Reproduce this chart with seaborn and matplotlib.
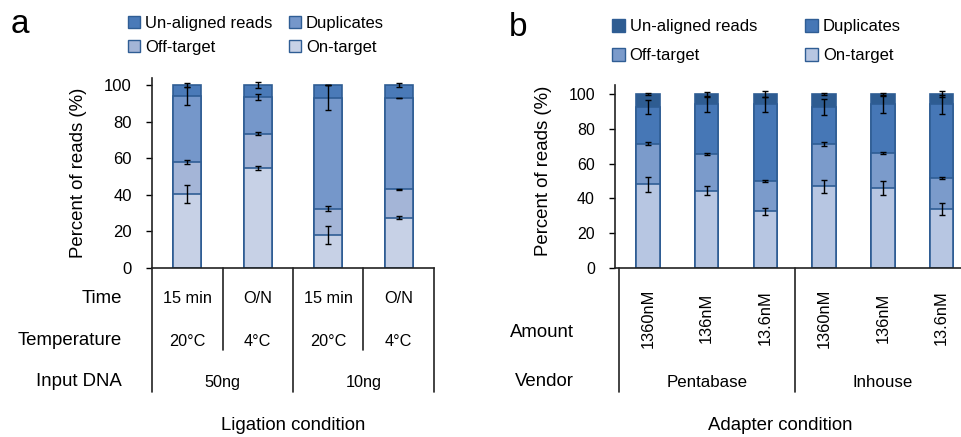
import matplotlib
matplotlib.use("Agg")
import matplotlib.pyplot as plt
from matplotlib.patches import Patch
import pandas as pd
import seaborn as sns

# ---------------------------------------------------------------------
# Data (percent of reads per segment)
# ---------------------------------------------------------------------
# Panel a: ligation condition
lig_time = ["15 min", "O/N", "15 min", "O/N"]
lig_temp = ["20°C", "4°C", "20°C", "4°C"]
lig_input = ["50ng", "10ng"]
lig_on = [40.5, 54.5, 18.0, 27.5]
lig_off = [17.5, 19.0, 14.5, 15.5]
lig_dup = [36.0, 20.0, 60.5, 50.0]
lig_un = [6.0, 6.5, 7.0, 7.0]
lig_on_err = [5.0, 1.1, 4.7, 0.9]
lig_off_err = [0.9, 0.6, 1.5, 0.2]
lig_dup_err = [4.7, 1.5, 6.8, 0.1]
lig_un_err = [1.3, 1.5, 0.0, 1.3]

# Panel b: adapter condition
ad_amount = ["1360nM", "136nM", "13.6nM", "1360nM", "136nM", "13.6nM"]
ad_vendor = ["Pentabase", "Inhouse"]
ad_on = [48.0, 44.5, 32.5, 47.0, 46.0, 34.0]
ad_off = [23.5, 21.0, 17.5, 24.5, 20.0, 17.5]
ad_dup = [21.0, 28.5, 44.0, 21.0, 28.0, 42.5]
ad_un = [7.5, 6.0, 6.0, 7.5, 6.0, 6.0]
ad_on_err = [4.5, 2.4, 2.2, 3.8, 3.8, 3.3]
ad_off_err = [1.0, 0.7, 0.7, 1.2, 0.7, 0.6]
ad_dup_err = [4.0, 4.5, 4.1, 4.5, 5.0, 5.3]
ad_un_err = [0.3, 1.0, 1.5, 0.3, 0.7, 1.5]

segments = ["On-target", "Off-target", "Duplicates", "Un-aligned reads"]
colors_a = ["#C7D1E6", "#A4B5D7", "#7597CA", "#4A7AB8"]
colors_b = ["#B7C6E2", "#7B9BCB", "#4677B6", "#2E5C91"]
EDGE = "#2F5D94"

sns.set_style("ticks")
plt.rcParams["font.family"] = ["Liberation Sans", "DejaVu Sans"]
plt.rcParams.update({"text.color": "black", "axes.labelcolor": "black",
                     "xtick.color": "black", "ytick.color": "black"})

fig = plt.figure(figsize=(9.61, 4.37), dpi=100)
ax_a = fig.add_axes([0.1582, 0.3867, 0.2934, 0.4355])
ax_b = fig.add_axes([0.640, 0.3867, 0.3705, 0.4181])


def stacked(ax, conds, parts, errs, colors, ymax, tick_size):
    df = pd.DataFrame({"cond": conds})
    cum = [0.0] * len(conds)
    tops = []
    for seg in parts:
        cum = [c + v for c, v in zip(cum, seg)]
        tops.append(cum)
    df_tops = []
    for name, t in zip(segments, tops):
        d = df.copy()
        d["seg"] = name
        d["value"] = t
        df_tops.append(d)
    long = pd.concat(df_tops, ignore_index=True)
    # draw from the tallest (cumulative) layer down so lower layers overlay
    for name, col in reversed(list(zip(segments, colors))):
        sub = long[long["seg"] == name]
        sns.barplot(data=sub, x="cond", y="value", order=conds, color=col,
                    width=0.4, edgecolor=EDGE, linewidth=1.2, saturation=1,
                    errorbar=None, ax=ax)
    for t, e in zip(tops, errs):
        ax.errorbar(x=list(range(len(conds))), y=t, yerr=e, fmt="none",
                    ecolor="black", elinewidth=1, capsize=2.5, capthick=1,
                    zorder=5)
    ax.set_ylim(0, ymax)
    ax.set_yticks([0, 20, 40, 60, 80, 100])
    ax.tick_params(axis="y", labelsize=tick_size, length=4.5, width=1, pad=10)
    ax.tick_params(axis="x", length=0, labelbottom=False)
    ax.set_xlabel("")
    sns.despine(ax=ax)
    for s in ["left", "bottom"]:
        ax.spines[s].set_linewidth(1.2)
        ax.spines[s].set_color("#222222")
    ax.set_ylabel("Percent of reads (%)", fontsize=13.4)
    ax.yaxis.label.set_ha("center")
    ax.yaxis.label.set_va("center")


# ---------------- panel a ----------------
cond_a = [f"{t}|{p}|{i}" for i, (t, p) in enumerate(zip(lig_time, lig_temp))]
stacked(ax_a, cond_a, [lig_on, lig_off, lig_dup, lig_un],
        [lig_on_err, lig_off_err, lig_dup_err, lig_un_err], colors_a, 104, 12)
ax_a.set_xlim(-0.5, 3.5)
ax_a.yaxis.set_label_coords(-0.262, 0.5)

tr = ax_a.get_xaxis_transform()
for i in range(len(cond_a)):
    ax_a.text(i, -0.158, lig_time[i], transform=tr, ha="center", va="center", fontsize=11.7)
    ax_a.text(i, -0.384, lig_temp[i], transform=tr, ha="center", va="center", fontsize=11.7)
for k, lab in enumerate(lig_input):
    ax_a.text(2 * k + 0.5, -0.599, lab, transform=tr, ha="center", va="center", fontsize=11.7)
for xs in [-0.5, 1.5, 3.5]:
    ax_a.plot([xs, xs], [0, -0.652], transform=tr, color="#222222", lw=1.2, clip_on=False)
for xs in [0.5, 2.5]:
    ax_a.plot([xs, xs], [0, -0.431], transform=tr, color="#222222", lw=1.2, clip_on=False)

fig.text(0.127, 0.318, "Time", ha="right", va="center", fontsize=13.4)
fig.text(0.127, 0.220, "Temperature", ha="right", va="center", fontsize=13.4)
fig.text(0.127, 0.126, "Input DNA", ha="right", va="center", fontsize=13.4)
fig.text(0.305, 0.027, "Ligation condition", ha="center", va="center", fontsize=13.4)

# ---------------- panel b ----------------
cond_b = [f"{ad_vendor[i // 3]}|{a}" for i, a in enumerate(ad_amount)]
stacked(ax_b, cond_b, [ad_on, ad_off, ad_dup, ad_un],
        [ad_on_err, ad_off_err, ad_dup_err, ad_un_err], colors_b, 105, 11.5)
ax_b.set_xlim(-0.56, 5.5)
ax_b.yaxis.set_label_coords(-0.202, 0.53)

tr = ax_b.get_xaxis_transform()
for i, lab in enumerate(ad_amount):
    ax_b.text(i, -0.274, lab, transform=tr, ha="center", va="center",
              rotation=90, fontsize=11.8)
for k, lab in enumerate(ad_vendor):
    ax_b.text(3 * k + 1, -0.624, lab, transform=tr, ha="center", va="center", fontsize=12.2)
for xs in [-0.5, 2.5]:
    ax_b.plot([xs, xs], [0, -0.679], transform=tr, color="#222222", lw=1.2, clip_on=False)

fig.text(0.597, 0.240, "Amount", ha="right", va="center", fontsize=13.4)
fig.text(0.597, 0.126, "Vendor", ha="right", va="center", fontsize=13.4)
fig.text(0.812, 0.027, "Adapter condition", ha="center", va="center", fontsize=13.4)

# ---------------- legends ----------------
order = [3, 1, 2, 0]  # column-wise fill: Un-aligned/Off-target, Duplicates/On-target
for colors, anchor, spacing, colsp in [(colors_a, (0.133, 0.9636), 0.55, 0.95),
                                       (colors_b, (0.637, 0.956), 0.85, 2.9)]:
    handles = [Patch(facecolor=colors[j], edgecolor=EDGE, linewidth=1.0) for j in order]
    labels = [segments[j] for j in order]
    fig.legend(handles, labels, loc="upper left", bbox_to_anchor=anchor, ncol=2,
               frameon=False, fontsize=12, handlelength=0.75, handleheight=0.75,
               handletextpad=0.3, labelspacing=spacing, columnspacing=colsp,
               borderpad=0, borderaxespad=0)

fig.text(0.021, 0.945, "a", ha="center", va="center", fontsize=24)
fig.text(0.539, 0.938, "b", ha="center", va="center", fontsize=24)

fig.savefig("out.png", dpi=100)
